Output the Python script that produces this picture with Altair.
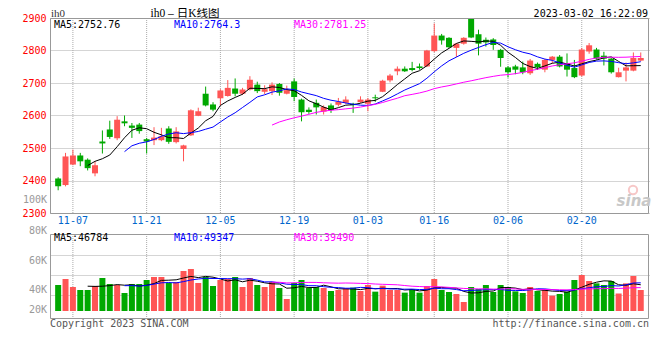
import altair as alt
import pandas as pd

dates = ["11-03", "11-04", "11-07", "11-08", "11-09", "11-10", "11-11", "11-14", "11-15", "11-16",
         "11-17", "11-18", "11-21", "11-22", "11-23", "11-24", "11-25", "11-28", "11-29", "11-30",
         "12-01", "12-02", "12-05", "12-06", "12-07", "12-08", "12-09", "12-12", "12-13", "12-14",
         "12-15", "12-16", "12-19", "12-20", "12-21", "12-22", "12-23", "12-26", "12-27", "12-28",
         "12-29", "12-30", "01-03", "01-04", "01-05", "01-06", "01-09", "01-10", "01-11", "01-12",
         "01-13", "01-16", "01-17", "01-18", "01-19", "01-20", "01-30", "01-31", "02-01", "02-02",
         "02-03", "02-06", "02-07", "02-08", "02-09", "02-10", "02-13", "02-14", "02-15", "02-16",
         "02-17", "02-20", "02-21", "02-22", "02-23", "02-24", "02-27", "02-28", "03-01", "03-02"]

opens = [2406, 2386, 2449, 2477, 2464, 2422, 2520, 2557, 2530, 2582,
         2569, 2572, 2527, 2524, 2524, 2560, 2518, 2497, 2539, 2599,
         2667, 2634, 2653, 2660, 2683, 2667, 2680, 2695, 2673, 2675,
         2697, 2667, 2705, 2649, 2618, 2639, 2612, 2631, 2633, 2639,
         2636, 2641, 2636, 2656, 2673, 2708, 2736, 2744, 2746, 2751,
         2751, 2798, 2846, 2839, 2808, 2821, 2898, 2850, 2833, 2834,
         2802, 2748, 2751, 2748, 2730, 2759, 2741, 2771, 2781, 2761,
         2746, 2723, 2797, 2803, 2784, 2775, 2718, 2738, 2738, 2769]
highs = [2410, 2485, 2495, 2485, 2468, 2459, 2554, 2584, 2598, 2600,
         2577, 2577, 2531, 2564, 2562, 2567, 2564, 2510, 2619, 2624,
         2689, 2641, 2681, 2709, 2714, 2685, 2721, 2704, 2693, 2702,
         2700, 2692, 2714, 2652, 2625, 2649, 2631, 2637, 2654, 2659,
         2639, 2659, 2654, 2664, 2710, 2728, 2751, 2751, 2765, 2760,
         2802, 2883, 2851, 2841, 2823, 2841, 2900, 2864, 2840, 2838,
         2805, 2752, 2756, 2766, 2774, 2763, 2774, 2783, 2786, 2791,
         2771, 2808, 2823, 2808, 2796, 2777, 2747, 2763, 2794, 2794]
lows = [2370, 2382, 2447, 2444, 2431, 2413, 2483, 2528, 2524, 2567,
        2531, 2544, 2483, 2509, 2521, 2513, 2514, 2459, 2537, 2598,
        2628, 2613, 2631, 2658, 2659, 2663, 2677, 2669, 2666, 2663,
        2661, 2665, 2644, 2582, 2605, 2603, 2603, 2608, 2628, 2636,
        2608, 2639, 2613, 2642, 2672, 2702, 2724, 2734, 2736, 2741,
        2749, 2795, 2818, 2808, 2780, 2818, 2838, 2785, 2812, 2802,
        2750, 2717, 2727, 2727, 2725, 2740, 2733, 2761, 2748, 2720,
        2715, 2720, 2790, 2772, 2754, 2729, 2717, 2705, 2736, 2767]
closes = [2382, 2474, 2477, 2459, 2438, 2447, 2514, 2534, 2587, 2576,
          2562, 2552, 2520, 2532, 2536, 2519, 2551, 2508, 2616, 2613,
          2631, 2618, 2677, 2685, 2667, 2680, 2710, 2675, 2681, 2695,
          2670, 2678, 2657, 2610, 2611, 2625, 2626, 2617, 2642, 2649,
          2632, 2649, 2649, 2653, 2707, 2723, 2744, 2736, 2740, 2746,
          2800, 2846, 2831, 2810, 2821, 2839, 2840, 2821, 2825, 2817,
          2777, 2733, 2741, 2733, 2769, 2749, 2771, 2781, 2751, 2741,
          2718, 2803, 2816, 2775, 2775, 2733, 2733, 2748, 2777, 2777]
volumes = [52000, 64000, 48000, 42000, 42000, 50000, 66000, 54000, 52000, 36000,
           54000, 54000, 62000, 68000, 68000, 56000, 58000, 80000, 84000, 56000,
           68000, 50000, 62000, 64000, 68000, 48000, 66000, 52000, 48000, 58000,
           46000, 24000, 56000, 62000, 46000, 48000, 46000, 40000, 42000, 45300,
           46700, 40000, 52000, 38700, 50700, 42000, 42000, 36700, 43300, 36700,
           50000, 64000, 42000, 38000, 34000, 18000, 48000, 44000, 52000, 38000,
           52000, 48000, 39300, 36000, 48000, 40000, 44000, 30700, 34000, 38700,
           62000, 72000, 60000, 55300, 52000, 60000, 35000, 55300, 70000, 42000]

tick_dates = ["11-07", "11-21", "12-05", "12-19", "01-03", "01-16", "02-06", "02-20"]
price_ticks = [2300, 2400, 2500, 2600, 2700, 2800, 2900]
vol_grid = [32000, 72000, 112000]

RED = "#FF5555"
GREEN = "#00A800"
GRID = "#aaaaaa"
FRAME = "#999999"
DATEBLUE = "#0066CC"
MONO = "DejaVu Sans Mono"
W, H = 599, 300
PH = 195
VT = 216

df = pd.DataFrame({"date": dates, "open": opens, "high": highs, "low": lows,
                   "close": closes, "volume": volumes})
df["i"] = range(len(df))
tk = pd.DataFrame({"date": tick_dates})
tk["i"] = [dates.index(d) for d in tick_dates]

X = alt.X("i:Q", scale=alt.Scale(domain=[-0.427, 79.44], nice=False, zero=False), axis=None)
py = alt.Scale(domain=[2900 - 600 * H / PH, 2900], nice=False, zero=False)
vy = alt.Scale(domain=[-14000, -14000 + 2000 * H], nice=False, zero=False)

price_axis = alt.Axis(values=price_ticks, orient="left", grid=True, gridColor=GRID,
                      gridDash=[1, 1], domain=False, ticks=False, labelColor="#FF0000",
                      labelFont=MONO, labelFontSize=10, labelPadding=4, labelFlush=False,
                      labelOverlap=False, format="d", title=None)
vol_axis = alt.Axis(values=vol_grid, orient="right", grid=True, gridColor=GRID,
                    gridDash=[1, 1], domain=False, ticks=False, labels=False, title=None)

col = alt.condition("datum.close >= datum.open", alt.value(RED), alt.value(GREEN))
base = alt.Chart(df)


def ma(field, n, color, scale, axis):
    return base.transform_window(
        m=f"mean({field})", c="count()", frame=[-(n - 1), 0], sort=[alt.SortField("i")]
    ).transform_filter(f"datum.c == {n}").mark_line(color=color, strokeWidth=1).encode(
        x=X, y=alt.Y("m:Q", scale=scale, axis=axis))


wicks = base.mark_rule(strokeWidth=1).encode(
    x=X, y=alt.Y("low:Q", scale=py, axis=price_axis), y2="high:Q", color=col)
bodies = base.mark_bar(size=6).encode(
    x=X, y=alt.Y("open:Q", scale=py, axis=price_axis), y2="close:Q", color=col)
price = alt.layer(wicks, bodies,
                  ma("close", 5, "#000000", py, price_axis),
                  ma("close", 10, "#0000FF", py, price_axis),
                  ma("close", 30, "#FF00FF", py, price_axis))

vbars = base.mark_bar(size=6).encode(
    x=X, y=alt.Y("volume:Q", scale=vy, axis=vol_axis), y2=alt.datum(0), color=col)
volume = alt.layer(vbars,
                   ma("volume", 5, "#000000", vy, vol_axis),
                   ma("volume", 10, "#0000FF", vy, vol_axis),
                   ma("volume", 30, "#FF00FF", vy, vol_axis))

tkc = alt.Chart(tk)
vgrid1 = tkc.mark_rule(color=GRID, strokeDash=[1, 1]).encode(x=X, y=alt.value(0), y2=alt.value(PH))
vgrid2 = tkc.mark_rule(color=GRID, strokeDash=[1, 1]).encode(x=X, y=alt.value(VT), y2=alt.value(H))
date_labels = tkc.mark_text(font=MONO, fontSize=10, color=DATEBLUE, baseline="middle", y=203).encode(
    x=X, text="date:N")

one = pd.DataFrame({"k": [0]})
frame1 = alt.Chart(one).mark_rect(fillOpacity=0, stroke=FRAME, strokeWidth=1).encode(
    x=alt.value(0.5), x2=alt.value(W - 0.5), y=alt.value(0.5), y2=alt.value(PH + 0.5))
frame2 = alt.Chart(one).mark_rect(fillOpacity=0, stroke=FRAME, strokeWidth=1).encode(
    x=alt.value(0.5), x2=alt.value(W - 0.5), y=alt.value(VT + 0.5), y2=alt.value(H + 0.5))


def txt(s, x, y, color, size=10, font=MONO, align="left", **kw):
    return alt.Chart(pd.DataFrame({"t": [s]})).mark_text(
        x=x, y=y, align=align, baseline="middle", color=color, font=font,
        fontSize=size, **kw).encode(text="t:N")


texts = [
    txt("ih0", 1, -4, "#333333", 11, "Liberation Serif"),
    txt("ih0 \u2013 日K线图", 135, -4.5, "#000000", 11.5, "Liberation Serif, Noto Sans CJK SC", "center"),
    txt("2023-03-02 16:22:09", 598, -4.5, "#000000", 10, MONO, "right"),
    txt("MA5:2752.76", 4, 6.5, "#000000"),
    txt("MA10:2764.3", 124, 6.5, "#0000FF"),
    txt("MA30:2781.25", 244, 6.5, "#FF00FF"),
    txt("MA5:46784", 4, 220, "#000000"),
    txt("MA10:49347", 124, 220, "#0000FF"),
    txt("MA30:39490", 244, 220, "#FF00FF"),
    txt("100K", -3, 182, "#999999", align="right"),
    txt("80K", -3, 213, "#999999", align="right"),
    txt("60K", -3, 243, "#999999", align="right"),
    txt("40K", -3, 272, "#999999", align="right"),
    txt("20K", -3, 292, "#999999", align="right"),
    txt("Copyright 2023 SINA.COM", 0, 306, "#555555"),
    txt("http://finance.sina.com.cn", W, 306, "#555555", align="right"),
    txt("sina", 584, 183, "#c8c8c8", 15, "DejaVu Sans", "center", fontStyle="italic", fontWeight="bold"),
]
eye = alt.Chart(one).mark_point(shape="circle", filled=False, size=70, strokeWidth=2,
                                color="#f4b0b0").encode(x=alt.value(583), y=alt.value(172))

chart = alt.layer(vgrid1, vgrid2, price, volume, date_labels, frame1, frame2, eye, *texts).resolve_scale(
    y="independent"
).properties(
    width=W, height=H,
    padding={"left": 42, "top": 10, "right": 3, "bottom": 22},
    autosize=alt.AutoSizeParams(type="none"),
    background="white",
).configure_view(stroke="transparent")

chart.save("out.html", embed_options={"renderer": "svg", "actions": False})
